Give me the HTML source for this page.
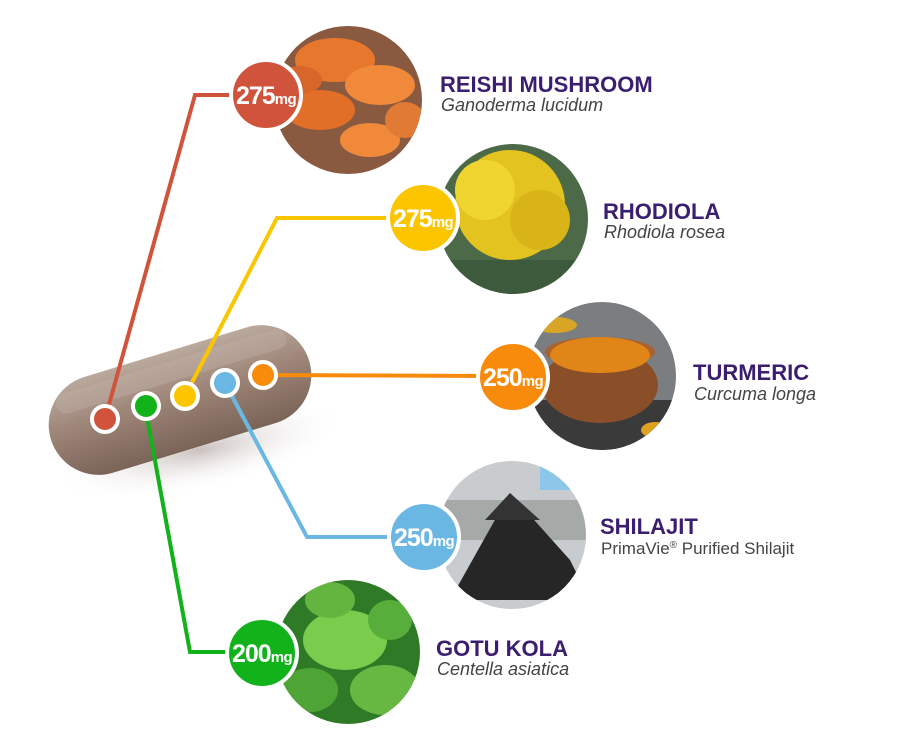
<!DOCTYPE html>
<html><head><meta charset="utf-8"><style>
html,body{margin:0;padding:0;background:#fff;}
svg{display:block;}
.t{font-family:"Liberation Sans",sans-serif;font-weight:bold;font-size:22px;fill:#3b1e70;}
.s{font-family:"Liberation Sans",sans-serif;font-style:italic;font-size:18px;fill:#444;}
.n{font-family:"Liberation Sans",sans-serif;font-style:normal;font-size:17px;fill:#444;}
.b{font-family:"Liberation Sans",sans-serif;font-weight:bold;fill:#fff;font-size:25px;letter-spacing:-1px;}
.m{font-size:15px;letter-spacing:-0.5px;}
</style></head><body>
<svg width="900" height="752" viewBox="0 0 900 752" xmlns="http://www.w3.org/2000/svg">
<defs>
<radialGradient id="sh" cx="0.5" cy="0.5" r="0.5"><stop offset="0" stop-color="#8a7670" stop-opacity="0.45"/><stop offset="1" stop-color="#fff" stop-opacity="0"/></radialGradient>
<linearGradient id="pill" x1="0" y1="0" x2="0" y2="1"><stop offset="0" stop-color="#bba99e"/><stop offset="0.5" stop-color="#9a8274"/><stop offset="1" stop-color="#7a6458"/></linearGradient>
<clipPath id="c1"><circle cx="348" cy="100" r="74"/></clipPath>
<clipPath id="c2"><circle cx="513" cy="219" r="75"/></clipPath>
<clipPath id="c3"><circle cx="602" cy="376" r="74"/></clipPath>
<clipPath id="c4"><circle cx="512" cy="535" r="74"/></clipPath>
<clipPath id="c5"><circle cx="348" cy="652" r="72"/></clipPath>
</defs>
<ellipse cx="200" cy="450" rx="150" ry="40" fill="url(#sh)" transform="rotate(-12 200 450)"/>
<g transform="rotate(-17 180 400)">
<rect x="45" y="350" width="270" height="100" rx="50" fill="url(#pill)"/>
<rect x="60" y="360" width="240" height="20" rx="10" fill="#c5b5ab" opacity="0.35"/>
</g>
<g clip-path="url(#c1)"><rect x="270" y="20" width="160" height="160" fill="#8a5a40"/>
<ellipse cx="335" cy="60" rx="40" ry="22" fill="#e8772e"/><ellipse cx="380" cy="85" rx="35" ry="20" fill="#f08a3a"/><ellipse cx="320" cy="110" rx="35" ry="20" fill="#e26f28"/><ellipse cx="370" cy="140" rx="30" ry="17" fill="#f0893a"/><ellipse cx="300" cy="80" rx="22" ry="14" fill="#d8662a"/><ellipse cx="405" cy="120" rx="20" ry="18" fill="#e07a35"/></g>
<g clip-path="url(#c2)"><rect x="435" y="140" width="160" height="160" fill="#4c6a48"/>
<circle cx="510" cy="205" r="55" fill="#e3c320"/><circle cx="485" cy="190" r="30" fill="#f0d530"/><circle cx="540" cy="220" r="30" fill="#d8b418"/><rect x="440" y="260" width="150" height="40" fill="#3e5a3c"/></g>
<g clip-path="url(#c3)"><rect x="525" y="300" width="160" height="160" fill="#7a7e80"/><rect x="525" y="400" width="160" height="60" fill="#3a3a3a"/>
<ellipse cx="600" cy="385" rx="58" ry="38" fill="#8a4f28"/><ellipse cx="600" cy="352" rx="55" ry="15" fill="#a8612f"/><ellipse cx="600" cy="355" rx="50" ry="18" fill="#e08618"/><ellipse cx="655" cy="430" rx="14" ry="8" fill="#e0a020"/><ellipse cx="555" cy="325" rx="22" ry="8" fill="#d9a526"/></g>
<g clip-path="url(#c4)"><rect x="435" y="460" width="160" height="160" fill="#c8ccce"/><rect x="540" y="460" width="60" height="30" fill="#8cc6e8"/><rect x="435" y="500" width="160" height="40" fill="#8e9290" opacity="0.6"/>
<polygon points="510,493 450,600 590,600 570,560" fill="#262626"/><polygon points="485,520 510,493 540,520" fill="#333"/></g>
<g clip-path="url(#c5)"><rect x="270" y="575" width="160" height="160" fill="#2f7a26"/>
<ellipse cx="345" cy="640" rx="42" ry="30" fill="#79cc4c"/><ellipse cx="310" cy="690" rx="28" ry="22" fill="#4ea536"/><ellipse cx="385" cy="690" rx="35" ry="25" fill="#66b843"/><ellipse cx="390" cy="620" rx="22" ry="20" fill="#58ae3a"/><ellipse cx="330" cy="600" rx="25" ry="18" fill="#63b540"/></g>
<g fill="none" stroke-width="4" stroke-linejoin="miter">
<polyline points="105,419 195,95 240,95" stroke="#d0533b"/>
<polyline points="185,396 277,218 400,218" stroke="#fbc600"/>
<polyline points="263,375 490,376" stroke="#f88a0c"/>
<polyline points="225,383 307,537 400,537" stroke="#6bb7e4"/>
<polyline points="145,406 190,652 240,652" stroke="#12b21a"/>
</g>
<g stroke="#fff" stroke-width="4">
<circle cx="105" cy="419" r="13" fill="#d0533b"/>
<circle cx="146" cy="406" r="13" fill="#12b21a"/>
<circle cx="185" cy="396" r="13" fill="#fbc600"/>
<circle cx="225" cy="383" r="13" fill="#6bb7e4"/>
<circle cx="263" cy="375" r="13" fill="#f88a0c"/>
</g>
<g stroke="#fff" stroke-width="4">
<circle cx="266" cy="95" r="35" fill="#d0533b"/>
<circle cx="423" cy="218" r="35" fill="#fbc600"/>
<circle cx="513" cy="377" r="35" fill="#f88a0c"/>
<circle cx="424" cy="537" r="35" fill="#6bb7e4"/>
<circle cx="262" cy="653" r="35" fill="#12b21a"/>
</g>
<text class="b" x="236" y="104">275<tspan class="m">mg</tspan></text>
<text class="b" x="393" y="227">275<tspan class="m">mg</tspan></text>
<text class="b" x="483" y="386">250<tspan class="m">mg</tspan></text>
<text class="b" x="394" y="546">250<tspan class="m">mg</tspan></text>
<text class="b" x="232" y="662">200<tspan class="m">mg</tspan></text>
<text class="t" x="440" y="92">REISHI MUSHROOM</text><text class="s" x="441" y="111">Ganoderma lucidum</text>
<text class="t" x="603" y="219">RHODIOLA</text><text class="s" x="604" y="238">Rhodiola rosea</text>
<text class="t" x="693" y="380">TURMERIC</text><text class="s" x="694" y="400">Curcuma longa</text>
<text class="t" x="600" y="534">SHILAJIT</text><text class="n" x="601" y="554">PrimaVie<tspan font-size="10" dy="-6">®</tspan><tspan dy="6"> Purified Shilajit</tspan></text>
<text class="t" x="436" y="656">GOTU KOLA</text><text class="s" x="437" y="675">Centella asiatica</text>
</svg>
</body></html>
